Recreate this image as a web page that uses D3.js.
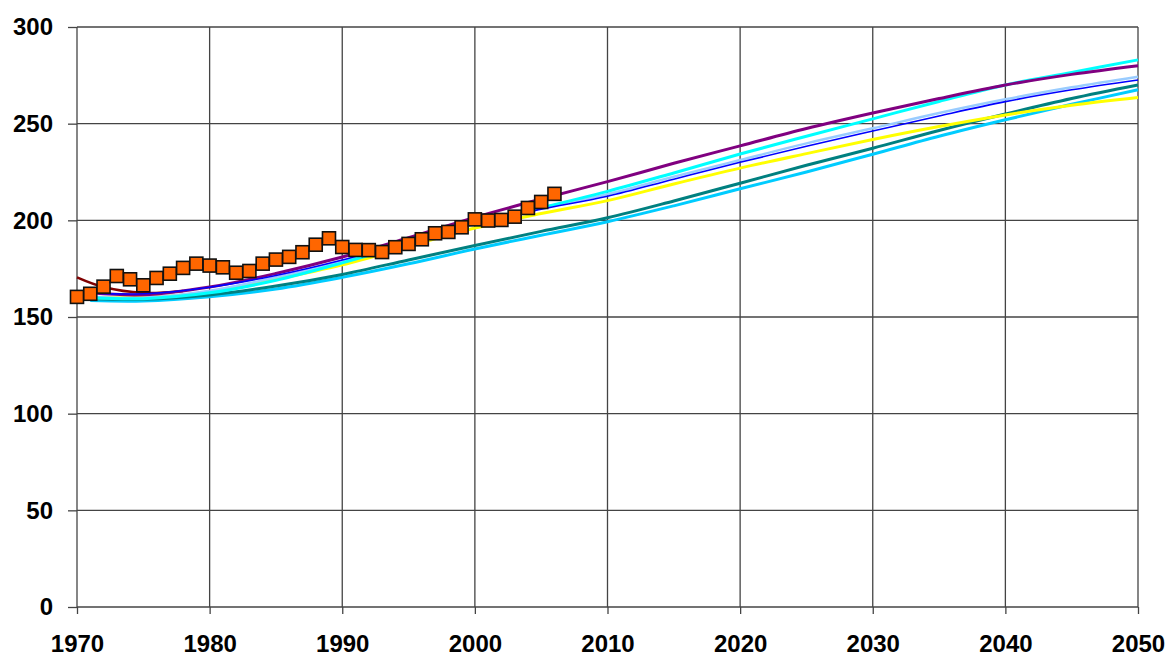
<!DOCTYPE html>
<html>
<head>
<meta charset="utf-8">
<script src="https://cdn.jsdelivr.net/npm/d3@7"></script>
<style>
  body { margin: 0; background: #fff; }
  .axis text { font-family: "Liberation Sans", Arial, sans-serif; font-weight: bold; font-size: 24px; fill: #000; }
  .axis path { display: none; }
  .axis line { stroke: #444; stroke-width: 1.3; }
</style>
</head>
<body>
<div id="chart"></div>
<script>
// observed values (squares), 1970-2006
var obsYears = d3.range(1970, 2007);
var obsValues = [160.4, 162, 165.7, 171.2, 169.5, 166.4, 170.2, 172.4, 175.4, 177.6,
    176.6, 175.7, 172.9, 173.8, 177.6, 179.7, 181.1, 183.5, 187.4, 190.7,
    186.2, 184.7, 184.6, 183.6, 186.1, 187.8, 190.2, 193.3, 194, 196.4,
    200.5, 199.9, 200.2, 201.9, 206.4, 209.5, 213.7];

// projection curves
var lineYears = [1971, 1975, 1980, 1985, 1990, 1995, 2000, 2005, 2010, 2015, 2020, 2025, 2030, 2035, 2040, 2045, 2050];
var skyValues    = [158.5, 158.3, 160.5, 164.5, 170.5, 177.5, 185.2, 192.3, 199.3, 207.5, 216.3, 225, 234.2, 243.5, 252, 260, 267.5];
var tealValues   = [159.5, 159.2, 161.4, 166, 172, 179.5, 187, 194.3, 201.3, 210, 219.2, 228.5, 237.3, 246.5, 255, 263, 270];
var yellowValues = [160, 160.2, 163, 169.5, 177, 186.5, 196, 203.5, 210.2, 218.8, 227, 234.5, 241.8, 248.5, 254.5, 259.5, 263.5];
var paleValues   = [160.5, 160, 163.6, 170.5, 178.8, 188.5, 199, 206.5, 213.5, 222.5, 231.2, 239.8, 247.6, 255.5, 262.6, 268.8, 274.3];
var cyanValues   = [160, 159.5, 162.5, 169, 178, 188, 198.5, 206.5, 215, 224.5, 234.3, 243.5, 252.5, 261.5, 270, 276.5, 283];
var purpleValues = [162.5, 161.5, 165.5, 172.5, 181, 191, 201.5, 211, 220, 229.5, 238.5, 247.5, 255.5, 263, 270, 275.5, 280];
var blueValues   = [162.5, 162, 165.4, 171.5, 179.5, 189, 198.5, 205.8, 212.5, 221.3, 230, 238.3, 246.2, 254, 261.4, 267.5, 272.6];

var maroonYears = [1970, 1972, 1975, 1978];
var maroonValues = [170.5, 165.5, 162.5, 163.5];

var xTicks = d3.range(1970, 2051, 10);
var yTicks = d3.range(0, 301, 50);

var margin = {top: 27, right: 31, bottom: 50, left: 77},
    width = 1169 - margin.left - margin.right,
    height = 657 - margin.top - margin.bottom;

var svg = d3.select("#chart")
    .append("svg")
    .attr("width", 1169)
    .attr("height", 657)
    .append("g")
    .attr("transform", "translate(" + margin.left + "," + margin.top + ")");

var x = d3.scaleLinear().domain([1970, 2050]).range([0, width]);
var y = d3.scaleLinear().domain([0, 300]).range([height, 0]);

// grid
svg.append("g").selectAll("line")
    .data(yTicks)
    .enter().append("line")
    .attr("x1", 0).attr("x2", width)
    .attr("y1", function(d) { return y(d); })
    .attr("y2", function(d) { return y(d); })
    .attr("stroke", "#444").attr("stroke-width", 1.3);

svg.append("g").selectAll("line")
    .data(xTicks)
    .enter().append("line")
    .attr("y1", 0).attr("y2", height)
    .attr("x1", function(d) { return x(d); })
    .attr("x2", function(d) { return x(d); })
    .attr("stroke", "#444").attr("stroke-width", 1.3);

// axes
svg.append("g")
    .attr("class", "axis")
    .call(d3.axisLeft(y).tickValues(yTicks).tickSize(9).tickPadding(15));

svg.append("g")
    .attr("class", "axis")
    .attr("transform", "translate(0," + height + ")")
    .call(d3.axisBottom(x).tickValues(xTicks).tickFormat(d3.format("d")).tickSize(7).tickPadding(21));

// lines
var series = [
    {years: lineYears, values: skyValues, color: "#00CCFF", w: 3},
    {years: lineYears, values: tealValues, color: "#008080", w: 3},
    {years: lineYears, values: yellowValues, color: "#FFFF00", w: 3},
    {years: lineYears, values: paleValues, color: "#99CCFF", w: 2.5},
    {years: lineYears, values: cyanValues, color: "#00FFFF", w: 3},
    {years: maroonYears, values: maroonValues, color: "#800000", w: 2.5},
    {years: lineYears, values: purpleValues, color: "#800080", w: 3},
    {years: lineYears, values: blueValues, color: "#0000FF", w: 1.6}
];

var line = d3.line()
    .x(function(d) { return x(d[0]); })
    .y(function(d) { return y(d[1]); })
    .curve(d3.curveCatmullRom);

svg.selectAll(".series")
    .data(series)
    .enter().append("path")
    .attr("class", "series")
    .attr("fill", "none")
    .attr("stroke", function(d) { return d.color; })
    .attr("stroke-width", function(d) { return d.w; })
    .attr("d", function(d) { return line(d3.zip(d.years, d.values)); });

// observed squares
var s = 13;
svg.selectAll(".obs")
    .data(d3.zip(obsYears, obsValues))
    .enter().append("rect")
    .attr("class", "obs")
    .attr("x", function(d) { return x(d[0]) - s / 2; })
    .attr("y", function(d) { return y(d[1]) - s / 2; })
    .attr("width", s)
    .attr("height", s)
    .attr("fill", "#FF6600")
    .attr("stroke", "#111")
    .attr("stroke-width", 1.6);
</script>
</body>
</html>
